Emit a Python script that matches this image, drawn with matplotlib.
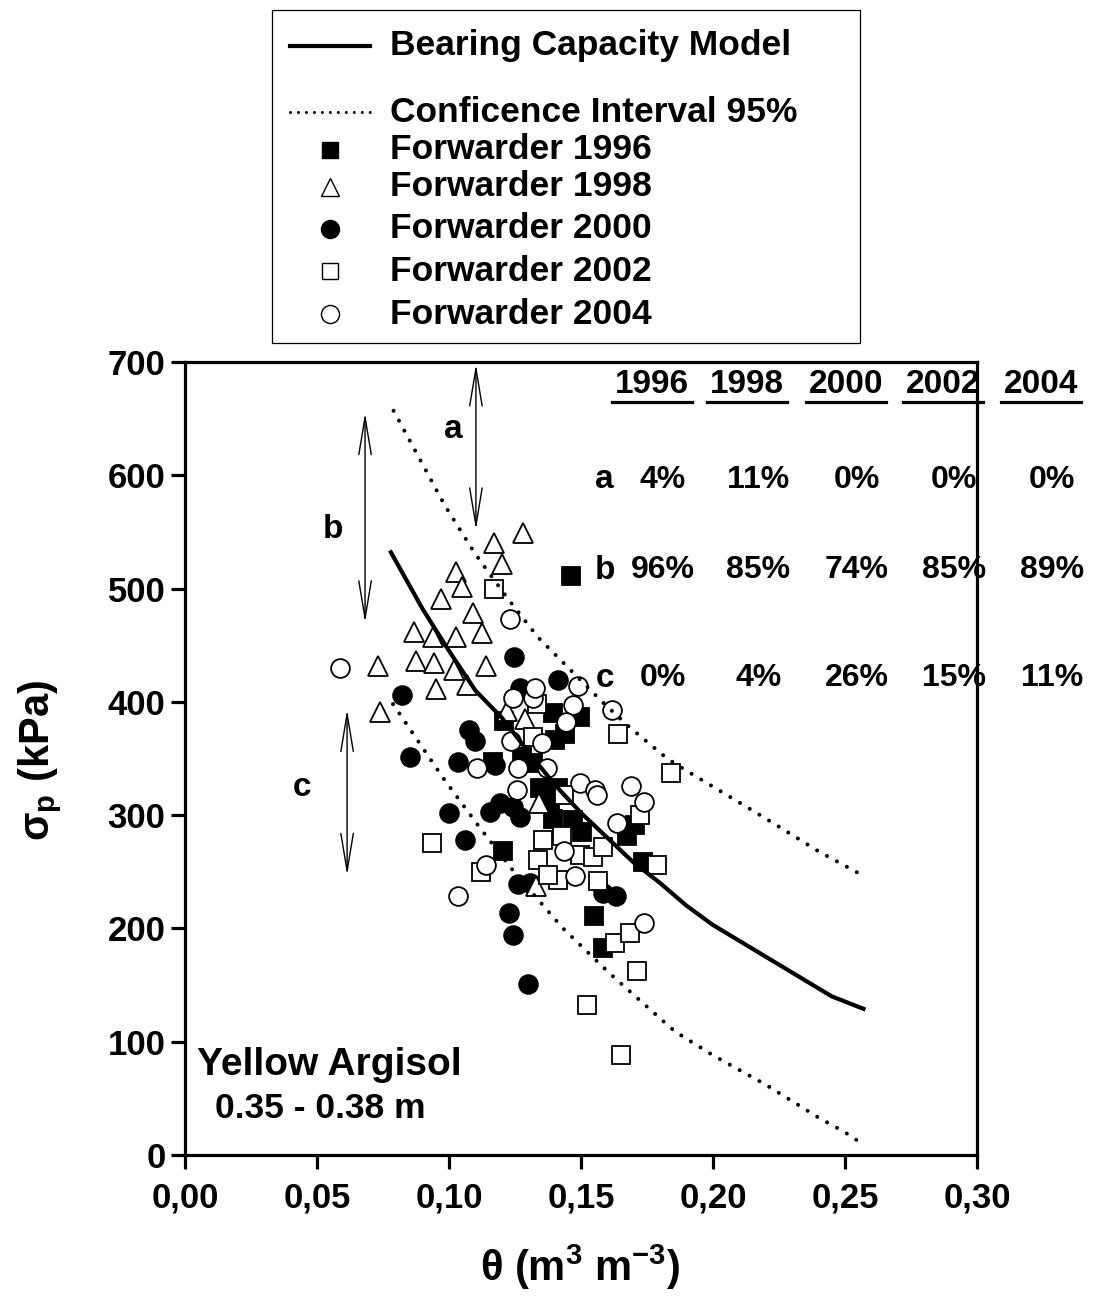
import matplotlib.pyplot as plt
from matplotlib.lines import Line2D
from matplotlib.patches import Rectangle

plt.rcParams['font.family'] = ['Liberation Sans', 'DejaVu Sans']
plt.rcParams['font.weight'] = 'bold'
plt.rcParams['mathtext.fontset'] = 'custom'
plt.rcParams['mathtext.rm'] = 'Liberation Sans:bold'
plt.rcParams['mathtext.it'] = 'Liberation Sans:bold'
plt.rcParams['mathtext.bf'] = 'Liberation Sans:bold'

# bearing capacity model and its 95% confidence band
model_theta = [0.078, 0.09, 0.10, 0.11, 0.12, 0.13, 0.14, 0.15, 0.16, 0.17, 0.18, 0.19, 0.20, 0.245, 0.257]
model_sp = [532, 482, 445, 410, 386, 356, 327, 302, 280, 258, 240, 220, 203, 140, 129]

upper_theta = [0.079, 0.0985, 0.1098, 0.1223, 0.1337, 0.1576, 0.1682, 0.1826, 0.1894, 0.22, 0.24, 0.2565]
upper_sp = [657, 573, 531, 491, 457, 401, 378, 350, 340, 297, 268, 247]

lower_theta = [0.0788, 0.0977, 0.111, 0.1246, 0.1432, 0.161, 0.1788, 0.1856, 0.20, 0.22, 0.24, 0.25, 0.2565]
lower_sp = [398, 333, 291, 250, 200, 160, 123, 109, 88, 62, 33, 20, 10]

# forwarder traffic, precompression stress vs. water content
theta_1996 = [0.1208, 0.1394, 0.1496, 0.1402, 0.1277, 0.1318, 0.1167, 0.1345, 0.1383, 0.1394,
              0.1413, 0.147, 0.1504, 0.1205, 0.1674, 0.1705, 0.1735, 0.155, 0.1583, 0.1462, 0.144]
sp_1996 = [383, 390, 387, 366, 351, 346, 347, 324, 313, 297,
           324, 296, 285, 268, 282, 291, 259, 211, 183, 511, 372]

theta_1998 = [0.128, 0.117, 0.120, 0.1027, 0.105, 0.097, 0.109, 0.0867, 0.094, 0.1027, 0.1125,
              0.0731, 0.0875, 0.0943, 0.1019, 0.114, 0.0951, 0.1068, 0.0739, 0.1288, 0.134,
              0.133, 0.122]
sp_1998 = [549, 540, 522, 515, 501, 491, 478, 462, 457, 457, 461,
           432, 436, 434, 428, 432, 411, 415, 391, 385, 311,
           237, 392]

theta_2000 = [0.0822, 0.0852, 0.100, 0.1061, 0.1246, 0.1413, 0.1269, 0.1076, 0.1098, 0.1034, 0.1174,
              0.1155, 0.1193, 0.1242, 0.1269, 0.1227, 0.1242, 0.1299, 0.1261, 0.1307, 0.1583, 0.1633]
sp_2000 = [406, 351, 302, 278, 440, 419, 412, 375, 365, 347, 344,
           303, 311, 307, 298, 214, 194, 151, 239, 240, 231, 229]

theta_2002 = [0.117, 0.1333, 0.1318, 0.1435, 0.164, 0.1841, 0.1723, 0.0936, 0.1121, 0.1356, 0.1337,
              0.1413, 0.1375, 0.1428, 0.1496, 0.1545, 0.1583, 0.1564, 0.1788, 0.1629, 0.1686,
              0.1712, 0.1523, 0.1652]
sp_2002 = [500, 398, 369, 318, 372, 337, 300, 275, 250, 278, 260,
           243, 247, 282, 265, 263, 272, 242, 256, 187, 196,
           162, 132, 88]

theta_2004 = [0.0587, 0.1231, 0.1242, 0.1318, 0.1326, 0.1489, 0.147, 0.1443, 0.1617, 0.1235, 0.1352,
              0.1106, 0.1261, 0.1371, 0.1258, 0.1496, 0.1553, 0.156, 0.1689, 0.1739, 0.1636,
              0.1436, 0.1477, 0.114, 0.1034, 0.1739]
sp_2004 = [430, 473, 403, 403, 412, 414, 397, 382, 393, 365, 364,
           342, 342, 342, 322, 328, 322, 318, 326, 312, 293,
           268, 246, 256, 229, 205]

# share of points above (a), inside (b) and below (c) the band, per year
years = ['1996', '1998', '2000', '2002', '2004']
pct_a = ['4%', '11%', '0%', '0%', '0%']
pct_b = ['96%', '85%', '74%', '85%', '89%']
pct_c = ['0%', '4%', '26%', '15%', '11%']

x_ticks = [0.00, 0.05, 0.10, 0.15, 0.20, 0.25, 0.30]
x_tick_labels = ['0,00', '0,05', '0,10', '0,15', '0,20', '0,25', '0,30']
y_ticks = [0, 100, 200, 300, 400, 500, 600, 700]

fig = plt.figure(figsize=(10.96, 13.03), dpi=100)
ax = fig.add_axes([0.1688, 0.1136, 0.7226, 0.6086])

ms = 13.5
ax.plot(theta_2000, sp_2000, 'o', ms=ms, mfc='black', mec='black', mew=1.3, zorder=3)
ax.plot(theta_1996, sp_1996, 's', ms=13, mfc='black', mec='black', mew=1.3, zorder=4)
ax.plot(theta_1998, sp_1998, '^', ms=14, mfc='white', mec='black', mew=1.3, zorder=5)
ax.plot(theta_2002, sp_2002, 's', ms=13, mfc='white', mec='black', mew=1.3, zorder=6)
ax.plot(theta_2004, sp_2004, 'o', ms=ms, mfc='white', mec='black', mew=1.3, zorder=7)

dots = (0, (0.01, 2.8))
ax.plot(model_theta, model_sp, '-', color='black', lw=3, zorder=8)
ax.plot(upper_theta, upper_sp, color='black', lw=2.9, ls=dots, dash_capstyle='round', zorder=8)
ax.plot(lower_theta, lower_sp, color='black', lw=2.9, ls=dots, dash_capstyle='round', zorder=8)

ax.set_xlim(0, 0.30)
ax.set_ylim(0, 700)
ax.set_xticks(x_ticks)
ax.set_xticklabels(x_tick_labels)
ax.set_yticks(y_ticks)
for sp in ax.spines.values():
    sp.set_linewidth(2.3)
ax.tick_params(direction='out', length=10, width=2.3, labelsize=25, pad=4)
ax.tick_params(axis='x', pad=9)

# range arrows a, b, c
arrow = dict(arrowstyle='<->,head_length=2.7,head_width=0.45', lw=1, color='black',
             shrinkA=0, shrinkB=0, mutation_scale=10)
ax.annotate('', xy=(0.1102, 698), xytext=(0.1102, 552), arrowprops=arrow)
ax.annotate('', xy=(0.0682, 655), xytext=(0.0682, 470), arrowprops=arrow)
ax.annotate('', xy=(0.0614, 393), xytext=(0.0614, 247), arrowprops=arrow)
ax.text(0.1015, 640, 'a', fontsize=24, ha='center', va='center')
ax.text(0.0561, 552, 'b', fontsize=24, ha='center', va='center')
ax.text(0.0443, 324, 'c', fontsize=24, ha='center', va='center')

ax.text(0.0045, 79, 'Yellow Argisol', fontsize=28, ha='left', va='center')
ax.text(0.0114, 41, '0.35 - 0.38 m', fontsize=25.5, ha='left', va='center')

# percentage table
narrow = ['Liberation Sans Narrow', 'Liberation Sans', 'DejaVu Sans']
col_x = [0.1769, 0.2129, 0.2504, 0.2871, 0.3242]
headers = []
for cx, yr in zip(col_x, years):
    headers.append(ax.text(cx, 680, yr, fontsize=24, family=narrow, ha='center', va='center'))
for row_y, label, vals in [(596, 'a', pct_a), (516, 'b', pct_b), (421, 'c', pct_c)]:
    ax.text(0.159, row_y, label, fontsize=24, ha='center', va='center')
    for cx, v in zip(col_x, vals):
        ax.text(cx + 0.0042, row_y, v, fontsize=23, family=narrow, ha='center', va='center')

fig.text(0.0365, 0.4167, r'σ$_\mathbf{p}$ (kPa)', fontsize=30, rotation=90, ha='center', va='center')
fig.text(0.529, 0.0275, r'θ (m$^\mathbf{3}$ m$^\mathbf{-3}$)', fontsize=30, ha='center', va='center')

# legend box
fig.add_artist(Rectangle((0.2482, 0.7368), 0.5365, 0.2556, transform=fig.transFigure,
                         fill=False, ec='black', lw=0.9))
legend_labels = ['Bearing Capacity Model', 'Conficence Interval 95%', 'Forwarder 1996',
                 'Forwarder 1998', 'Forwarder 2000', 'Forwarder 2002', 'Forwarder 2004']
legend_y = [0.9647, 0.9140, 0.8849, 0.8565, 0.8243, 0.7920, 0.7590]
legend_keys = [dict(ls='-', lw=3), dict(ls=(0, (0.01, 2.6)), lw=2.2, dash_capstyle='round'),
               dict(ls='', marker='s', ms=12, mfc='black'),
               dict(ls='', marker='^', ms=13, mfc='white', mew=1.0),
               dict(ls='', marker='o', ms=13, mfc='black'),
               dict(ls='', marker='s', ms=12, mfc='white', mew=1.0),
               dict(ls='', marker='o', ms=13, mfc='white', mew=1.0)]
for lab, ly, key in zip(legend_labels, legend_y, legend_keys):
    if key.get('marker'):
        xs, ys = [0.3011], [ly]
    else:
        xs, ys = [0.2646, 0.3376], [ly, ly]
    fig.add_artist(Line2D(xs, ys, transform=fig.transFigure, color='black', mec='black', **key))
    fig.text(0.3558, ly, lab, fontsize=25.5, ha='left', va='center')

# underline the year headers
fig.canvas.draw()
r = fig.canvas.get_renderer()
for t in headers:
    bb = t.get_window_extent(r)
    fx0, fy = fig.transFigure.inverted().transform((bb.x0 - 3, bb.y0 - 2))
    fx1, _ = fig.transFigure.inverted().transform((bb.x1 + 3, bb.y0 - 2))
    fig.add_artist(Line2D([fx0, fx1], [fy, fy], transform=fig.transFigure, color='black', lw=2.3))

fig.savefig('out.png', dpi=100)
